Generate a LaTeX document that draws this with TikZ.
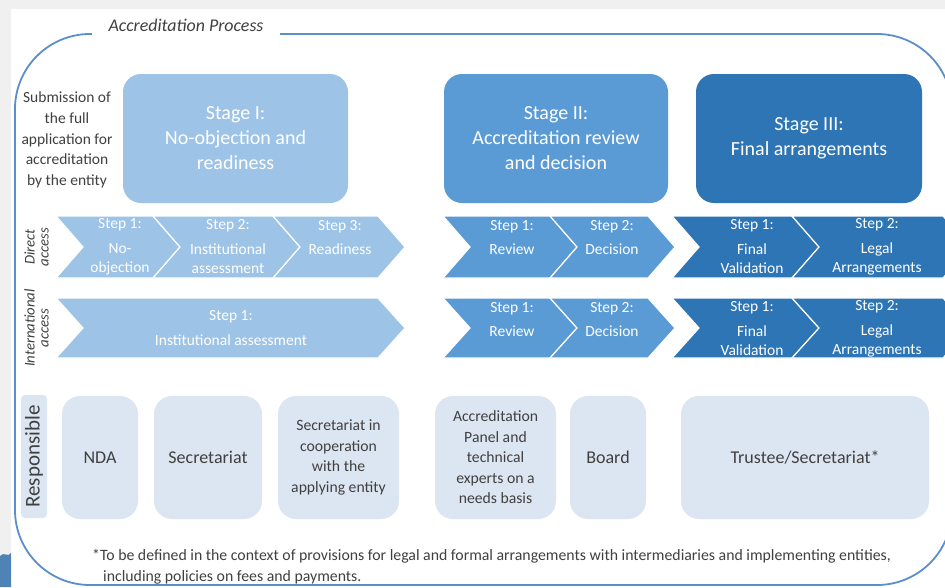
\documentclass[tikz,border=0pt]{standalone}
\usepackage{fontspec}
\setmainfont{Carlito}
\definecolor{stageone}{HTML}{9DC3E6}
\definecolor{stagetwo}{HTML}{5B9BD5}
\definecolor{stagethree}{HTML}{2E75B6}
\definecolor{resp}{HTML}{DCE6F2}
\definecolor{textgray}{HTML}{404040}
\definecolor{framecol}{HTML}{5A8FCA}
\definecolor{backgray}{HTML}{F0F0F0}
\tikzset{
	stagebox/.style = {rounded corners = 18pt, minimum height = 129pt, text = white, align = center, font = \fontsize{20}{25}\selectfont},
	respbox/.style = {fill = resp, rounded corners = 18pt, minimum height = 123pt, text = textgray, align = center},
	steptext/.style = {text = white, align = center, font = \fontsize{15.5}{19.5}\selectfont, inner sep = 0pt},
	sidetext/.style = {text = textgray, align = center, rotate = 90, font = \fontsize{14.8}{14}\selectfont\itshape, inner sep = 0pt},
}
\begin{document}
\begin{tikzpicture}[x = 1pt, y = -1pt]
	\useasboundingbox (0, 0) rectangle (945, 587);
	\clip (0, 0) rectangle (945, 587);
	\fill[backgray] (0, 0) rectangle (945, 587);
	\fill[white] (11, 9) rectangle (945, 587);
	\fill[stagetwo!85!black] (0, 556) .. controls (4, 551) and (8, 558) .. (11, 553) -- (11, 587) -- (0, 587) -- cycle;
	\draw[framecol, line width = 1.8pt, rounded corners = 75pt] (15, 34) rectangle (952, 585);
	\node[fill = white, minimum width = 188pt, minimum height = 24pt, text = textgray, font = \fontsize{17.9}{20}\selectfont\itshape] (title) at (186, 25) {Accreditation Process};
	% stages
	\node[text = textgray, align = center, font = \fontsize{15.5}{20.75}\selectfont] (submit) at (67, 140) {Submission of\\the full\\application for\\accreditation\\by the entity};
	\node[stagebox, fill = stageone, minimum width = 225pt] (stage1) at (235.5, 138.5) {Stage I:\\No-objection and\\readiness};
	\node[stagebox, fill = stagetwo, minimum width = 224pt] (stage2) at (556, 138.5) {Stage II:\\Accreditation review\\and decision};
	\node[stagebox, fill = stagethree, minimum width = 226pt] (stage3) at (809, 138.5) {Stage III:\\Final arrangements};
	% chevrons
	\foreach \xa/\xb/\Col in {56/153/stageone, 153/273/stageone, 273/378/stageone, 443/550/stagetwo, 550/648/stagetwo, 672/792/stagethree, 792/943/stagethree}
	{
		\filldraw[fill = \Col, draw = white, line width = 1.2pt] (\xa, 216) -- (\xb, 216) -- (\xb + 27, 247) -- (\xb, 278) -- (\xa, 278) -- (\xa + 27, 247) -- cycle;
	}
	\foreach \xa/\xb/\Col in {56/378/stageone, 443/550/stagetwo, 550/648/stagetwo, 672/792/stagethree, 792/943/stagethree}
	{
		\filldraw[fill = \Col, draw = white, line width = 1.2pt] (\xa, 298) -- (\xb, 298) -- (\xb + 27, 328) -- (\xb, 358) -- (\xa, 358) -- (\xa + 27, 328) -- cycle;
	}
	\node[sidetext] (direct) at (36.5, 247) {Direct\\access};
	\node[sidetext] (intl) at (36.5, 328) {International\\access};
	% direct access
	\node[steptext] (d1) at (120, 247) {Step 1:\\[5pt]No-\\objection};
	\node[steptext] (d2) at (228, 247) {Step 2:\\[5pt]Institutional\\assessment};
	\node[steptext] (d3) at (340, 237.5) {Step 3:\\[5pt]Readiness};
	\node[steptext] (d4) at (512, 237.5) {Step 1:\\[5pt]Review};
	\node[steptext] (d5) at (612, 237.5) {Step 2:\\[5pt]Decision};
	\node[steptext] (d6) at (752, 247) {Step 1:\\[5pt]Final\\Validation};
	\node[steptext] (d7) at (877, 247) {Step 2:\\[5pt]Legal\\Arrangements};
	% international access
	\node[steptext] (i1) at (231, 328) {Step 1:\\[5pt]Institutional assessment};
	\node[steptext] (i2) at (512, 319.5) {Step 1:\\[5pt]Review};
	\node[steptext] (i3) at (612, 319.5) {Step 2:\\[5pt]Decision};
	\node[steptext] (i4) at (752, 329) {Step 1:\\[5pt]Final\\Validation};
	\node[steptext] (i5) at (877, 329) {Step 2:\\[5pt]Legal\\Arrangements};
	% responsible
	\node[fill = resp, rounded corners = 4pt, minimum width = 123pt, minimum height = 26pt, rotate = 90, text = textgray, font = \fontsize{21}{21}\selectfont] (resp) at (34, 456.5) {Responsible};
	\node[respbox, minimum width = 76pt, font = \fontsize{18}{20}\selectfont] (nda) at (100, 457.5) {NDA};
	\node[respbox, minimum width = 108pt, font = \fontsize{18}{20}\selectfont] (secr) at (208, 457.5) {Secretariat};
	\node[respbox, minimum width = 121pt, font = \fontsize{15.7}{20.5}\selectfont] (coop) at (338.5, 457.5) {Secretariat in\\cooperation\\with the\\applying entity};
	\node[respbox, minimum width = 121pt, font = \fontsize{15.7}{20.5}\selectfont] (panel) at (495.5, 457.5) {Accreditation\\Panel and\\technical\\experts on a\\needs basis};
	\node[respbox, minimum width = 76pt, font = \fontsize{18}{20}\selectfont] (board) at (608, 457.5) {Board};
	\node[respbox, minimum width = 248pt, font = \fontsize{18}{20}\selectfont] (trustee) at (805, 457.5) {Trustee/Secretariat*};
	% footnote
	\node[anchor = west, inner sep = 0pt, text = textgray, font = \fontsize{15.8}{18}\selectfont] (note1) at (92, 556) {*To be defined in the context of provisions for legal and formal arrangements with intermediaries and implementing entities,};
	\node[anchor = west, inner sep = 0pt, text = textgray, font = \fontsize{15.8}{18}\selectfont] (note2) at (103, 577) {including policies on fees and payments.};
\end{tikzpicture}
\end{document}
